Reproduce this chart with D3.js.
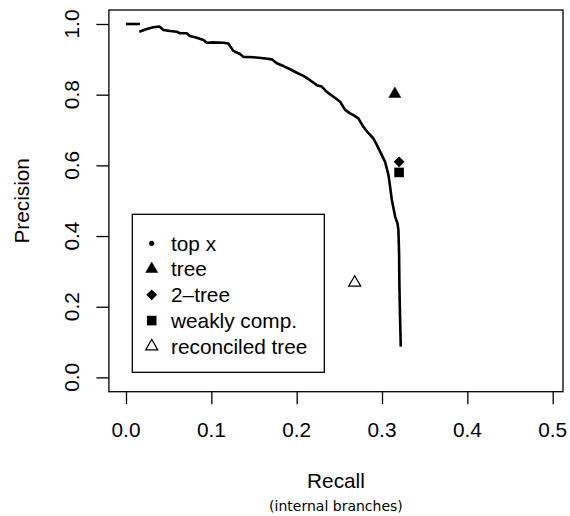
<!DOCTYPE html>
<html>
<head>
<meta charset="utf-8">
<script src="https://cdn.jsdelivr.net/npm/d3@7"></script>
<style>
  body { margin: 0; background: #fff; }
  svg { display: block; }
  text { font-family: "Liberation Sans", Arial, sans-serif; fill: #000; }
</style>
</head>
<body>
<div id="figure"></div>
<script>
// precision / recall curve (top x)
var topRecall    = [0.000, 0.0164];
var topPrecision = [1.000, 1.000];

var curveRecall = [0.0156, 0.0243, 0.0320, 0.0391, 0.0438, 0.0516, 0.0594, 0.0633, 0.0711, 0.0750,
                   0.0829, 0.0907, 0.0946, 0.1024, 0.1141, 0.1199, 0.1258, 0.1336, 0.1375, 0.1493,
                   0.1610, 0.1708, 0.1767, 0.1844, 0.1923, 0.2001, 0.2079, 0.2157, 0.2236, 0.2294,
                   0.2353, 0.2431, 0.2509, 0.2568, 0.2626, 0.2665, 0.2723, 0.2782, 0.2841, 0.2899,
                   0.2939, 0.2978, 0.3036, 0.3075, 0.3095, 0.3115, 0.3154, 0.3181, 0.3192, 0.3200,
                   0.3204, 0.3212, 0.3220];
var curvePrecision = [0.978, 0.986, 0.991, 0.993, 0.983, 0.980, 0.978, 0.974, 0.974, 0.966,
                      0.961, 0.955, 0.947, 0.948, 0.947, 0.945, 0.924, 0.915, 0.907, 0.906,
                      0.903, 0.900, 0.889, 0.881, 0.872, 0.862, 0.853, 0.841, 0.827, 0.823,
                      0.808, 0.794, 0.780, 0.757, 0.747, 0.742, 0.733, 0.709, 0.691, 0.676,
                      0.658, 0.639, 0.610, 0.573, 0.539, 0.502, 0.455, 0.436, 0.417, 0.351,
                      0.256, 0.162, 0.087];

// single methods
var methods         = ["top x", "tree", "2\u2013tree", "weakly comp.", "reconciled tree"];
var methodSymbol    = ["dot", "triangle", "diamond", "square", "openTriangle"];
var methodRecall    = [null, 0.315, 0.320, 0.320, 0.268];
var methodPrecision = [null, 0.802, 0.610, 0.580, 0.268];

var xTicks = [0, 0.1, 0.2, 0.3, 0.4, 0.5];
var yTicks = [0, 0.2, 0.4, 0.6, 0.8, 1.0];

// geometry (R style plot region, one text line = 25px)
const W = 570, H = 516;
const box = {left: 108.9, right: 563, top: 10, bottom: 391.7};
const lineH = 25;
const fs = 20.8;

const x = d3.scaleLinear().domain([0, 0.5]).range([126, 552.7]);
const y = d3.scaleLinear().domain([0, 1]).range([377.4, 24]);

const svg = d3.select("#figure").append("svg")
    .attr("width", W).attr("height", H);

// symbols like R's pch 20, 17, 18, 15, 2
function drawSymbol(g, kind, cx, cy) {
    if (kind === "dot") {
        g.append("circle").attr("cx", cx).attr("cy", cy).attr("r", 2.6).attr("fill", "#000");
    } else if (kind === "triangle" || kind === "openTriangle") {
        const r = 7.0;
        const pts = [[cx, cy - r], [cx + r * 0.866, cy + r * 0.5], [cx - r * 0.866, cy + r * 0.5]];
        g.append("polygon").attr("points", pts.map(p => p.join(",")).join(" "))
            .attr("fill", kind === "triangle" ? "#000" : "none")
            .attr("stroke", "#000").attr("stroke-width", kind === "triangle" ? 0.5 : 1.2);
    } else if (kind === "diamond") {
        const r = 5.4;
        const pts = [[cx, cy - r], [cx + r, cy], [cx, cy + r], [cx - r, cy]];
        g.append("polygon").attr("points", pts.map(p => p.join(",")).join(" ")).attr("fill", "#000");
    } else if (kind === "square") {
        const s = 9.6;
        g.append("rect").attr("x", cx - s / 2).attr("y", cy - s / 2)
            .attr("width", s).attr("height", s).attr("fill", "#000");
    }
}

// curve
const line = d3.line().x(d => x(d[0])).y(d => y(d[1]));
svg.append("path")
    .datum(topRecall.map((r, i) => [r, topPrecision[i]]))
    .attr("d", line).attr("fill", "none").attr("stroke", "#000").attr("stroke-width", 2.6);
svg.append("path")
    .datum(curveRecall.map((r, i) => [r, curvePrecision[i]]))
    .attr("d", line).attr("fill", "none").attr("stroke", "#000")
    .attr("stroke-width", 2.6).attr("stroke-linejoin", "round");

// method points
const pts = svg.append("g");
methods.forEach(function(m, i) {
    if (methodRecall[i] == null) return;
    drawSymbol(pts, methodSymbol[i], x(methodRecall[i]), y(methodPrecision[i]));
});

// plot box
svg.append("rect")
    .attr("x", box.left).attr("y", box.top)
    .attr("width", box.right - box.left).attr("height", box.bottom - box.top)
    .attr("fill", "none").attr("stroke", "#000").attr("stroke-width", 1.3);

// x axis (labels at line 1, like R: baseline 1.8 lines below the box)
const xAxis = svg.append("g")
    .attr("transform", `translate(0, ${box.bottom})`)
    .call(d3.axisBottom(x).tickValues(xTicks).tickSize(lineH / 2).tickFormat(d3.format(".1f")));
xAxis.select(".domain").remove();
xAxis.selectAll("line").attr("stroke", "#000").attr("stroke-width", 1.3);
xAxis.selectAll("text").remove();
svg.append("g").selectAll("text").data(xTicks).join("text")
    .attr("x", d => x(d)).attr("y", box.bottom + 1.8 * lineH)
    .attr("text-anchor", "middle").attr("font-size", fs)
    .text(d => d3.format(".1f")(d));

// y axis (labels rotated, baseline 1.2 lines left of the box)
const yAxis = svg.append("g")
    .attr("transform", `translate(${box.left}, 0)`)
    .call(d3.axisLeft(y).tickValues(yTicks).tickSize(lineH / 2).tickFormat(d3.format(".1f")));
yAxis.select(".domain").remove();
yAxis.selectAll("line").attr("stroke", "#000").attr("stroke-width", 1.3);
yAxis.selectAll("text").remove();
svg.append("g").selectAll("text").data(yTicks).join("text")
    .attr("transform", d => `translate(${box.left - 1.2 * lineH}, ${y(d)}) rotate(-90)`)
    .attr("text-anchor", "middle").attr("font-size", fs)
    .text(d => d3.format(".1f")(d));

// axis titles
const midX = (box.left + box.right) / 2;
svg.append("text").attr("x", midX).attr("y", box.bottom + 3.85 * lineH)
    .attr("text-anchor", "middle").attr("font-size", fs).text("Recall");
svg.append("text").attr("x", midX).attr("y", 511)
    .attr("text-anchor", "middle").attr("font-size", 14)
    .style("font-family", "'DejaVu Sans', sans-serif").text("(internal branches)");
svg.append("text")
    .attr("transform", `translate(${box.left - 3.2 * lineH}, ${(box.top + box.bottom) / 2}) rotate(-90)`)
    .attr("text-anchor", "middle").attr("font-size", fs).text("Precision");

// legend
const leg = {left: 132.3, top: 214.3, right: 324.3, bottom: 372.3};
const legRowY = [243.3, 269, 294.8, 320.6, 346.4];
svg.append("rect")
    .attr("x", leg.left).attr("y", leg.top)
    .attr("width", leg.right - leg.left).attr("height", leg.bottom - leg.top)
    .attr("fill", "#fff").attr("stroke", "#000").attr("stroke-width", 1.3);
const lg = svg.append("g");
methods.forEach(function(m, i) {
    drawSymbol(lg, methodSymbol[i], 151.7, legRowY[i]);
    lg.append("text").attr("x", 171).attr("y", legRowY[i])
        .attr("dy", "0.35em").attr("font-size", fs).text(m);
});
</script>
</body>
</html>
